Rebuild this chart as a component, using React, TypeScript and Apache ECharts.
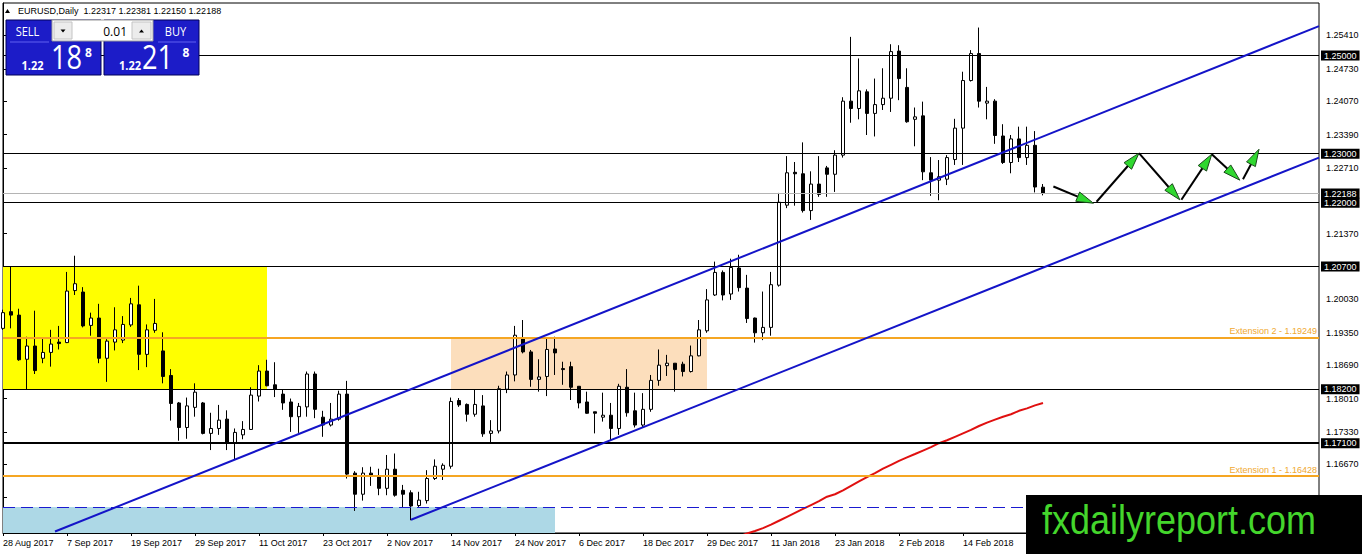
import React, { useEffect, useRef } from 'react';
import * as echarts from 'echarts';

const dates = [
  '28 Aug 2017','29 Aug 2017','30 Aug 2017','31 Aug 2017','1 Sep 2017','4 Sep 2017','5 Sep 2017','6 Sep 2017','7 Sep 2017','8 Sep 2017',
  '11 Sep 2017','12 Sep 2017','13 Sep 2017','14 Sep 2017','15 Sep 2017','18 Sep 2017','19 Sep 2017','20 Sep 2017','21 Sep 2017','22 Sep 2017',
  '25 Sep 2017','26 Sep 2017','27 Sep 2017','28 Sep 2017','29 Sep 2017','2 Oct 2017','3 Oct 2017','4 Oct 2017','5 Oct 2017','6 Oct 2017',
  '9 Oct 2017','10 Oct 2017','11 Oct 2017','12 Oct 2017','13 Oct 2017','16 Oct 2017','17 Oct 2017','18 Oct 2017','19 Oct 2017','20 Oct 2017',
  '23 Oct 2017','24 Oct 2017','25 Oct 2017','26 Oct 2017','27 Oct 2017','30 Oct 2017','31 Oct 2017','1 Nov 2017','2 Nov 2017','3 Nov 2017',
  '6 Nov 2017','7 Nov 2017','8 Nov 2017','9 Nov 2017','10 Nov 2017','13 Nov 2017','14 Nov 2017','15 Nov 2017','16 Nov 2017','17 Nov 2017',
  '20 Nov 2017','21 Nov 2017','22 Nov 2017','23 Nov 2017','24 Nov 2017','27 Nov 2017','28 Nov 2017','29 Nov 2017','30 Nov 2017','1 Dec 2017',
  '4 Dec 2017','5 Dec 2017','6 Dec 2017','7 Dec 2017','8 Dec 2017','11 Dec 2017','12 Dec 2017','13 Dec 2017','14 Dec 2017','15 Dec 2017',
  '18 Dec 2017','19 Dec 2017','20 Dec 2017','21 Dec 2017','22 Dec 2017','26 Dec 2017','27 Dec 2017','28 Dec 2017','29 Dec 2017','2 Jan 2018',
  '3 Jan 2018','4 Jan 2018','5 Jan 2018','8 Jan 2018','9 Jan 2018','10 Jan 2018','11 Jan 2018','12 Jan 2018','15 Jan 2018','16 Jan 2018',
  '17 Jan 2018','18 Jan 2018','19 Jan 2018','22 Jan 2018','23 Jan 2018','24 Jan 2018','25 Jan 2018','26 Jan 2018','29 Jan 2018','30 Jan 2018',
  '31 Jan 2018','1 Feb 2018','2 Feb 2018','5 Feb 2018','6 Feb 2018','7 Feb 2018','8 Feb 2018','9 Feb 2018','12 Feb 2018','13 Feb 2018',
  '14 Feb 2018','15 Feb 2018','16 Feb 2018','19 Feb 2018','20 Feb 2018','21 Feb 2018','22 Feb 2018','23 Feb 2018','26 Feb 2018','27 Feb 2018',
  '28 Feb 2018',
];

const opens = [
  1.1944,1.1978,1.1971,1.1881,1.1908,1.1883,1.1895,1.1916,1.1915,1.2021,
  1.2018,1.1950,1.1965,1.1883,1.1916,1.1920,1.1951,1.1992,1.1891,1.1940,
  1.1898,1.1848,1.1792,1.1742,1.1783,1.1792,1.1730,1.1740,1.1759,1.1711,
  1.1727,1.1738,1.1806,1.1857,1.1829,1.1810,1.1794,1.1764,1.1784,1.1851,
  1.1763,1.1747,1.1759,1.1810,1.1649,1.1606,1.1649,1.1642,1.1618,1.1657,
  1.1614,1.1609,1.1583,1.1593,1.1638,1.1657,1.1663,1.1797,1.1789,1.1769,
  1.1786,1.1730,1.1735,1.1820,1.1849,1.1924,1.1896,1.1840,1.1846,1.1902,
  1.1862,1.1866,1.1826,1.1794,1.1774,1.1763,1.1767,1.1740,1.1824,1.1776,
  1.1747,1.1779,1.1838,1.1868,1.1873,1.1871,1.1856,1.1888,1.1939,1.2012,
  1.2058,1.2014,1.2067,1.2026,1.1965,1.1935,1.1946,1.2032,1.2195,1.2262,
  1.2259,1.2184,1.2238,1.2271,1.2258,1.2297,1.2407,1.2392,1.2426,1.2382,
  1.2400,1.2413,1.2509,1.2435,1.2370,1.2377,1.2261,1.2246,1.2248,1.2288,
  1.2352,1.2449,1.2504,1.2403,1.2407,1.2336,1.2282,1.2330,1.2292,1.2317,
  1.22317,
];
const highs = [
  1.1982,1.2070,1.1984,1.1927,1.1980,1.1924,1.1941,1.1949,1.2059,1.2092,
  1.2028,1.1976,1.1994,1.1922,1.1987,1.1969,1.2006,1.2031,1.1952,1.2004,
  1.1936,1.1861,1.1794,1.1803,1.1832,1.1794,1.1772,1.1788,1.1777,1.1740,
  1.1755,1.1824,1.1869,1.1880,1.1875,1.1819,1.1801,1.1792,1.1856,1.1856,
  1.1776,1.1792,1.1817,1.1837,1.1653,1.1661,1.1662,1.1658,1.1686,1.1689,
  1.1625,1.1614,1.1611,1.1655,1.1677,1.1669,1.1803,1.1802,1.1791,1.1819,
  1.1808,1.1757,1.1827,1.1856,1.1949,1.1961,1.1900,1.1881,1.1924,1.1927,
  1.1876,1.1876,1.1826,1.1815,1.1774,1.1813,1.1792,1.1831,1.1861,1.1813,
  1.1812,1.1849,1.1901,1.1890,1.1873,1.1876,1.1909,1.1961,1.2024,1.2080,
  1.2062,1.2086,1.2094,1.2053,1.1966,1.2019,1.2059,1.2220,1.2295,1.2283,
  1.2323,1.2264,1.2295,1.2275,1.2307,1.2415,1.2538,1.2494,1.2431,1.2453,
  1.2474,1.2523,1.2521,1.2474,1.2394,1.2406,1.2293,1.2287,1.2297,1.2371,
  1.2467,1.2511,1.2557,1.2436,1.2411,1.2360,1.2338,1.2355,1.2355,1.2346,
  1.22381,
];
const lows = [
  1.1941,1.1944,1.1878,1.1820,1.1851,1.1873,1.1866,1.1901,1.1914,1.2012,
  1.1946,1.1929,1.1873,1.1835,1.1899,1.1914,1.1947,1.1859,1.1865,1.1935,
  1.1832,1.1756,1.1715,1.1719,1.1764,1.1728,1.1696,1.1727,1.1696,1.1676,
  1.1718,1.1737,1.1795,1.1826,1.1804,1.1778,1.1733,1.1731,1.1764,1.1761,
  1.1723,1.1744,1.1756,1.1638,1.1572,1.1593,1.1623,1.1604,1.1604,1.1601,
  1.1580,1.1553,1.1580,1.1587,1.1635,1.1635,1.1658,1.1784,1.1754,1.1764,
  1.1723,1.1711,1.1730,1.1812,1.1836,1.1893,1.1825,1.1815,1.1806,1.1849,
  1.1829,1.1798,1.1781,1.1770,1.1730,1.1754,1.1715,1.1727,1.1764,1.1742,
  1.1742,1.1774,1.1827,1.1847,1.1815,1.1846,1.1854,1.1887,1.1935,1.2010,
  1.2001,1.2002,1.2019,1.1955,1.1915,1.1920,1.1929,1.2029,1.2189,1.2194,
  1.2180,1.2165,1.2212,1.2212,1.2222,1.2292,1.2363,1.2370,1.2338,1.2335,
  1.2389,1.2385,1.2409,1.2363,1.2315,1.2246,1.2214,1.2205,1.2236,1.2277,
  1.2277,1.2447,1.2394,1.2370,1.2320,1.2279,1.2260,1.2283,1.2277,1.2221,
  1.22150,
];
const closes = [
  1.1976,1.1971,1.1880,1.1908,1.1858,1.1895,1.1912,1.1913,1.2020,1.2035,
  1.1949,1.1965,1.1883,1.1918,1.1941,1.1952,1.1994,1.1891,1.1941,1.1954,
  1.1846,1.1791,1.1742,1.1786,1.1814,1.1730,1.1740,1.1757,1.1711,1.1732,
  1.1738,1.1808,1.1857,1.1827,1.1820,1.1792,1.1764,1.1785,1.1851,1.1779,
  1.1747,1.1759,1.1810,1.1647,1.1606,1.1649,1.1645,1.1618,1.1657,1.1604,
  1.1606,1.1582,1.1594,1.1638,1.1663,1.1665,1.1795,1.1788,1.1769,1.1789,
  1.1729,1.1735,1.1821,1.1849,1.1930,1.1896,1.1840,1.1845,1.1901,1.1894,
  1.1860,1.1824,1.1792,1.1771,1.1771,1.1767,1.1740,1.1826,1.1772,1.1747,
  1.1779,1.1838,1.1869,1.1873,1.1860,1.1856,1.1888,1.1941,1.2002,1.2058,
  1.2012,1.2068,1.2027,1.1964,1.1935,1.1946,1.2033,1.2201,1.2261,1.2259,
  1.2184,1.2238,1.2217,1.2258,1.2297,1.2407,1.2392,1.2428,1.2382,1.2400,
  1.2413,1.2508,1.2453,1.2365,1.2375,1.2263,1.2246,1.2253,1.2292,1.2352,
  1.2449,1.2504,1.2407,1.2407,1.2337,1.2282,1.2330,1.2292,1.2317,1.2232,
  1.22188,
];

// 200-day moving average (red), starting at bar index maStart
const maStart = 92;
const maValues = [
  1.1520,1.1526,1.1531,1.1537,1.1544,1.1552,1.1560,1.1568,1.1576,1.1584,
  1.1592,1.1601,1.1606,1.1614,1.1623,1.1632,1.1641,1.1649,1.1658,1.1666,
  1.1674,1.1681,1.1688,1.1695,1.1702,1.1710,1.1716,1.1723,1.1730,1.1737,
  1.1745,1.1752,1.1758,1.1764,1.1769,1.1776,1.1781,1.1787,1.1792,
];

const yTicks = [1.2541, 1.2473, 1.2407, 1.2339, 1.2271, 1.2137, 1.2003, 1.1935, 1.1869, 1.1801, 1.1733, 1.1667, 1.1599];
const levelValues = [1.25, 1.23, 1.22, 1.207, 1.182, 1.171];
const levelWidths = [1, 1, 1, 1, 1, 2];
const bidPrice = 1.22188;
const extensionValues = [1.19249, 1.16428];
const extensionNames = ['Extension 2', 'Extension 1'];
const dashedLevel = 1.158;

// channel lines: [x1, price1, x2, price2] in bar units
const channelLines = [
  [6.5, 1.1530, 164.5, 1.2560],
  [51, 1.1554, 164.5, 1.2292],
];
// projected path arrows: [xFrom, priceFrom, xTo, priceTo]
const arrowSegments = [
  [131.3, 1.2233, 136.3, 1.2199],
  [136.7, 1.2202, 142.0, 1.2301],
  [142.0, 1.2301, 147.1, 1.2206],
  [147.3, 1.2206, 151.1, 1.2299],
  [151.1, 1.2299, 154.6, 1.2246],
  [155.0, 1.2248, 157.0, 1.2309],
];
// zones: [xFrom, xTo, priceTop, priceBottom]
const zones = [
  [0, 33, 1.207, 1.182],
  [56, 88, 1.19249, 1.182],
  [0, 69, 1.158, 1.1527],
];
const zoneColors = ['#ffff00', '#fcdebc', '#add8e6'];

const X_MAX = 164.5;
const Y_MIN = 1.1527;
const Y_MAX = 1.2607;
const FONT = '"Liberation Sans", Arial, sans-serif';
const UI_FONT = '"Open Sans", "Noto Sans", sans-serif';

export default function App() {
  const ref = useRef<HTMLDivElement>(null);
  useEffect(() => {
    document.body.style.margin = '0';
    const chart = echarts.init(ref.current!, undefined, { renderer: 'svg' });
    const blue = '#1c1cc8';
    const lastIdx = closes.length - 1;
    const header = 'EURUSD,Daily  ' + [opens[lastIdx], highs[lastIdx], lows[lastIdx], closes[lastIdx]].map((v) => v.toFixed(5)).join(' ');

    const boxLabel = (v: number) => ({
      show: true,
      position: 'end',
      formatter: v.toFixed(5),
      backgroundColor: '#000',
      color: '#fff',
      padding: [1, 3, 0, 3],
      fontSize: 9,
      fontFamily: FONT,
      distance: 2,
    });

    const levelLines: any[] = [];
    levelLines.push({
      yAxis: bidPrice,
      lineStyle: { color: '#b4b4b4', width: 1, type: 'solid' },
      label: boxLabel(bidPrice),
    });
    levelValues.forEach((v, i) => {
      levelLines.push({
        yAxis: v,
        lineStyle: { color: '#000', width: levelWidths[i], type: 'solid' },
        label: boxLabel(v),
      });
    });
    extensionValues.forEach((v, i) => {
      levelLines.push({
        yAxis: v,
        lineStyle: { color: '#f5a623', width: 2, type: 'solid' },
        label: { show: true, position: 'insideEndTop', formatter: extensionNames[i] + ' - ' + v.toFixed(5), color: '#f0a830', fontSize: 9, fontFamily: FONT, distance: 2 },
      });
    });
    levelLines.push({
      yAxis: dashedLevel,
      lineStyle: { color: '#1a1ad0', width: 1, type: [12, 6] },
      label: { show: false },
    });

    const txt = (text: string, x: number, y: number, size: number, opts: any = {}) => ({
      type: 'text',
      x,
      y,
      scaleX: opts.scaleX ?? 1,
      z: opts.z ?? 105,
      style: {
        text,
        fill: opts.fill ?? '#fff',
        fontSize: size,
        fontFamily: opts.family ?? FONT,
        fontWeight: opts.weight ?? 'normal',
        align: opts.align ?? 'left',
        verticalAlign: 'middle',
      },
    });

    chart.setOption({
      animation: false,
      backgroundColor: '#fff',
      grid: { left: 3, right: 43, top: 3, bottom: 21, show: true, borderColor: '#000', borderWidth: 1, backgroundColor: '#fff' },
      xAxis: {
        type: 'value',
        min: 0,
        max: X_MAX,
        interval: 8,
        splitLine: { show: false },
        axisLine: { show: true, lineStyle: { color: '#000' } },
        axisTick: { show: true, length: 3, lineStyle: { color: '#000' } },
        axisLabel: {
          color: '#000',
          fontSize: 9,
          fontFamily: FONT,
          align: 'left',
          margin: 5,
          showMaxLabel: false,
          formatter: (v: number) => (Number.isInteger(v) && dates[v] ? dates[v] : ''),
        },
      },
      yAxis: {
        type: 'value',
        position: 'right',
        min: Y_MIN,
        max: Y_MAX,
        scale: true,
        splitLine: { show: false },
        axisLine: { show: true, lineStyle: { color: '#000' } },
        axisTick: { show: true, length: 4, customValues: yTicks, lineStyle: { color: '#000' } },
        axisLabel: {
          customValues: yTicks,
          color: '#000',
          fontSize: 9,
          fontFamily: FONT,
          margin: 7,
          formatter: (v: number) => v.toFixed(5),
        },
      },
      series: [
        {
          type: 'line',
          name: 'zones',
          data: [],
          z: 1,
          silent: true,
          markArea: {
            silent: true,
            z: 1,
            data: zones.map((zn, i) => [
              { xAxis: zn[0], yAxis: zn[2], itemStyle: { color: zoneColors[i], opacity: 1 } },
              { xAxis: zn[1], yAxis: zn[3] },
            ]),
          },
        },
        {
          type: 'candlestick',
          name: 'EURUSD',
          data: dates.map((_, i) => [i, opens[i], closes[i], lows[i], highs[i]]),
          encode: { x: 0, y: [1, 2, 3, 4] },
          barWidth: 4,
          z: 3,
          itemStyle: { color: '#fff', color0: '#000', borderColor: '#000', borderColor0: '#000', borderWidth: 1 },
        },
        {
          type: 'line',
          name: 'MA',
          data: maValues.map((v, k) => [maStart + k, v]),
          showSymbol: false,
          symbol: 'none',
          z: 4,
          lineStyle: { color: '#e01010', width: 2 },
        },
        {
          type: 'line',
          name: 'levels',
          data: [],
          z: 5,
          markLine: { silent: true, precision: 5, symbol: ['none', 'none'], z: 5, data: levelLines },
        },
        ...channelLines.map((c) => ({
          type: 'line',
          data: [[c[0], c[1]], [c[2], c[3]]],
          symbol: 'none',
          z: 6,
          lineStyle: { color: '#1414c8', width: 2 },
        })),
        {
          type: 'custom',
          name: 'arrows',
          z: 7,
          silent: true,
          data: arrowSegments,
          encode: { x: [0, 2], y: [1, 3] },
          renderItem: (_p: any, api: any) => {
            const a = api.coord([api.value(0), api.value(1)]);
            const b = api.coord([api.value(2), api.value(3)]);
            const dx = b[0] - a[0];
            const dy = b[1] - a[1];
            const len = Math.hypot(dx, dy) || 1;
            const ux = dx / len;
            const uy = dy / len;
            const hl = 17;
            const hw = 5;
            const bx = b[0] - ux * hl;
            const by = b[1] - uy * hl;
            const nx = -uy;
            const ny = ux;
            return {
              type: 'group',
              children: [
                { type: 'line', shape: { x1: a[0], y1: a[1], x2: bx + ux * 2, y2: by + uy * 2 }, style: { stroke: '#000', lineWidth: 2 } },
                {
                  type: 'polygon',
                  shape: { points: [[b[0], b[1]], [bx + nx * hw, by + ny * hw], [bx - nx * hw, by - ny * hw]] },
                  style: { fill: '#30d830', stroke: '#1a4a1a', lineWidth: 1 },
                },
              ],
            };
          },
        },
      ],
      graphic: [
        { type: 'polygon', z: 100, shape: { points: [[5, 13], [7.5, 9], [10, 13]] }, style: { fill: '#000' } },
        txt(header, 18, 10.5, 9, { fill: '#000' }),
        { type: 'rect', z: 100, shape: { x: 6, y: 20, width: 95, height: 55 }, style: { fill: blue, stroke: '#00005a', lineWidth: 1 } },
        { type: 'rect', z: 100, shape: { x: 104, y: 20, width: 95, height: 55 }, style: { fill: blue, stroke: '#00005a', lineWidth: 1 } },
        { type: 'rect', z: 101, shape: { x: 52, y: 20, width: 101, height: 21 }, style: { fill: '#fff', stroke: '#9a9a9a', lineWidth: 1 } },
        { type: 'rect', z: 102, shape: { x: 54, y: 22, width: 18, height: 17 }, style: { fill: '#ececec', stroke: '#c4c4c4', lineWidth: 1 } },
        { type: 'polygon', z: 103, shape: { points: [[60.5, 29.5], [65.5, 29.5], [63, 32.5]] }, style: { fill: '#000' } },
        { type: 'rect', z: 102, shape: { x: 132, y: 22, width: 19, height: 17 }, style: { fill: '#ececec', stroke: '#c4c4c4', lineWidth: 1 } },
        { type: 'polygon', z: 103, shape: { points: [[139, 32.5], [144, 32.5], [141.5, 29.5]] }, style: { fill: '#000' } },
        txt('0.01', 127, 31, 12, { fill: '#000', align: 'right', family: UI_FONT }),
        txt('SELL', 27.5, 31, 13, { align: 'center', scaleX: 0.85, family: UI_FONT }),
        txt('BUY', 175.5, 31, 13, { align: 'center', scaleX: 0.85, family: UI_FONT }),
        { type: 'line', z: 102, shape: { x1: 10, y1: 42, x2: 49, y2: 42 }, style: { stroke: '#6060f0', lineWidth: 1 } },
        { type: 'line', z: 102, shape: { x1: 158, y1: 42, x2: 196, y2: 42 }, style: { stroke: '#6060f0', lineWidth: 1 } },
        txt('1.22', 21.5, 65.5, 13, { weight: 'bold', scaleX: 0.85, family: UI_FONT }),
        txt('18', 51, 57, 32, { scaleX: 0.85, family: UI_FONT }),
        txt('8', 85, 52, 12, { weight: 'bold', family: UI_FONT }),
        txt('1.22', 119, 65.5, 13, { weight: 'bold', scaleX: 0.85, family: UI_FONT }),
        txt('21', 142, 57, 32, { scaleX: 0.85, family: UI_FONT }),
        txt('8', 182.5, 52, 12, { weight: 'bold', family: UI_FONT }),
        { type: 'rect', z: 110, shape: { x: 1026, y: 495, width: 336, height: 59 }, style: { fill: '#000' } },
        txt('fxdailyreport.com', 1042, 520, 40, { fill: '#44d62c', scaleX: 0.9, z: 111 }),
      ],
    });
    return () => chart.dispose();
  }, []);
  return <div ref={ref} style={{ width: 1362, height: 554 }} />;
}
